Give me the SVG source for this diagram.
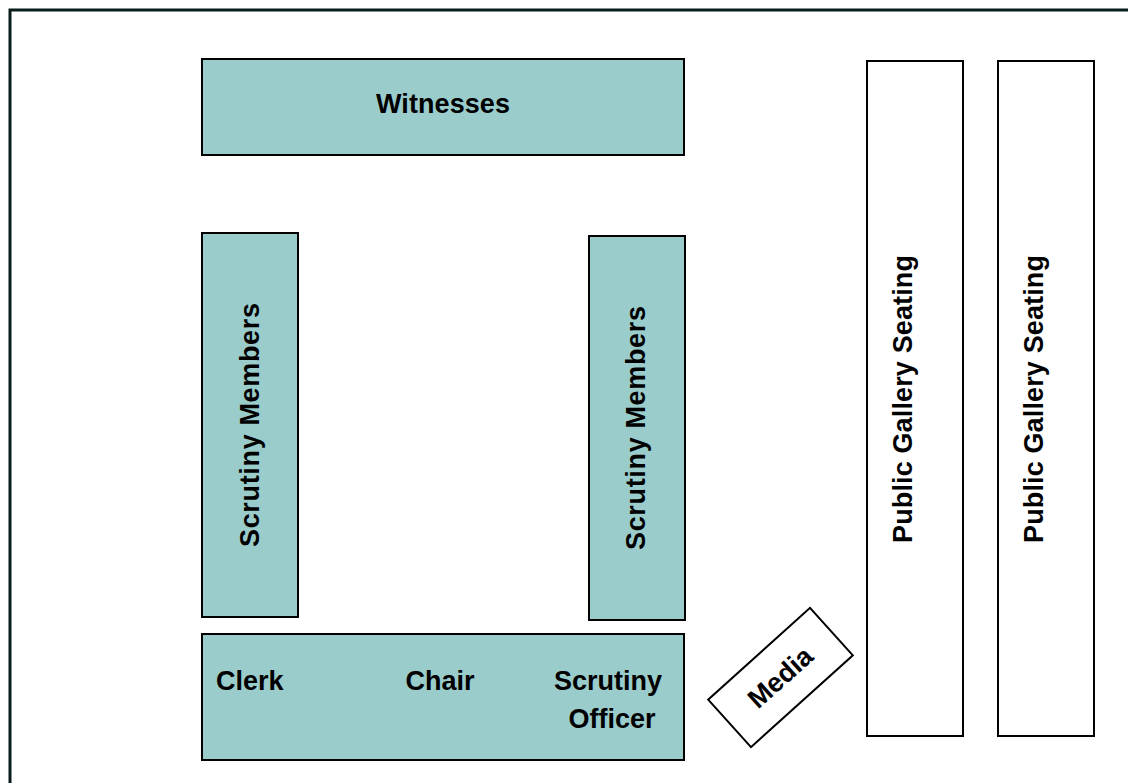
<svg xmlns="http://www.w3.org/2000/svg" width="1128" height="783" viewBox="0 0 1128 783">
<style>
.t{fill:#9ACCCB;stroke:#000;stroke-width:2}
.w{fill:#fff;stroke:#000;stroke-width:2}
.l{font-family:"Liberation Sans",Arial,sans-serif;font-weight:bold;font-size:27px;fill:#000}
</style>
<rect x="0" y="0" width="1128" height="783" fill="#fff"/>
<rect x="10" y="10" width="1130" height="785" fill="none" stroke="#081c1c" stroke-width="3"/>
<g id="witnesses"><rect class="t" x="202" y="59" width="482" height="96"/><text class="l" x="443" y="113" text-anchor="middle" textLength="134" lengthAdjust="spacing">Witnesses</text></g>
<g id="members-left"><rect class="t" x="202" y="233" width="96" height="384"/><text class="l" transform="translate(259,425) rotate(-90)" text-anchor="middle" textLength="244" lengthAdjust="spacing">Scrutiny Members</text></g>
<g id="members-right"><rect class="t" x="589" y="236" width="96" height="384"/><text class="l" transform="translate(645,428) rotate(-90)" text-anchor="middle" textLength="244" lengthAdjust="spacing">Scrutiny Members</text></g>
<g id="top-table"><rect class="t" x="202" y="634" width="482" height="126"/>
<text class="l" x="216" y="690">Clerk</text>
<text class="l" x="440" y="690" text-anchor="middle">Chair</text>
<text class="l" x="608" y="690" text-anchor="middle">Scrutiny</text>
<text class="l" x="612" y="728" text-anchor="middle">Officer</text></g>
<g id="media"><g transform="translate(780.5,677.5) rotate(-42)"><rect class="w" x="-68.5" y="-32" width="137" height="64" stroke-width="1.5"/><text class="l" x="0" y="9" text-anchor="middle">Media</text></g></g>
<g id="gallery-1"><rect class="w" x="867" y="61" width="96" height="675"/><text class="l" transform="translate(912,399) rotate(-90)" text-anchor="middle" textLength="288" lengthAdjust="spacing">Public Gallery Seating</text></g>
<g id="gallery-2"><rect class="w" x="998" y="61" width="96" height="675"/><text class="l" transform="translate(1043,399) rotate(-90)" text-anchor="middle" textLength="288" lengthAdjust="spacing">Public Gallery Seating</text></g>
<g id="connectors"></g>
</svg>
